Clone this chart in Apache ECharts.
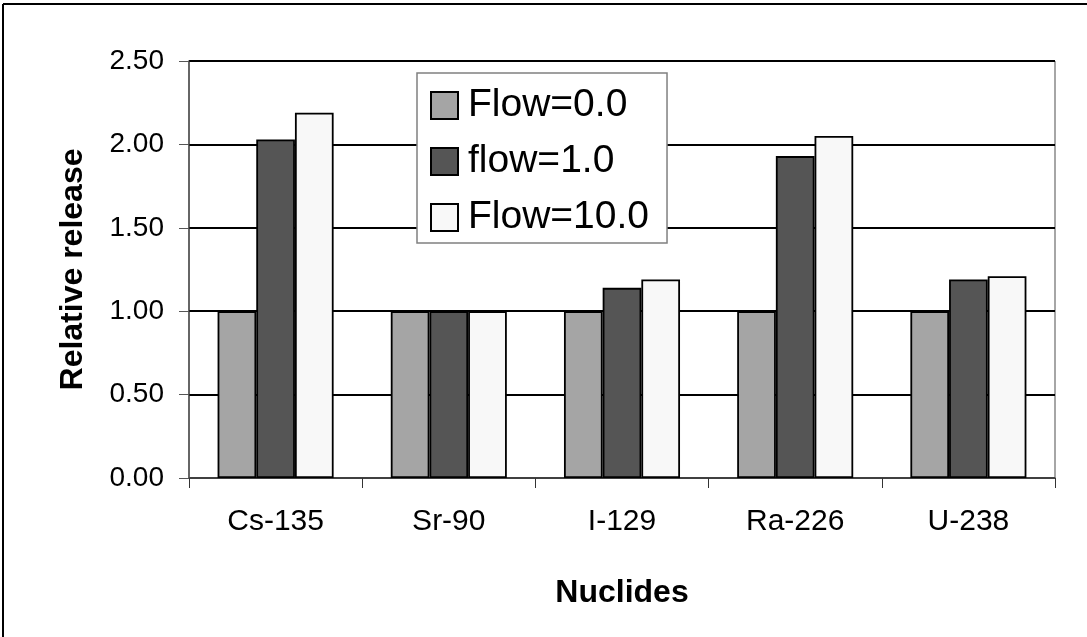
<!DOCTYPE html>
<html>
<head>
<meta charset="utf-8">
<style>
  html, body { margin: 0; padding: 0; background: #fff; }
  #chart { width: 1087px; height: 637px; }
</style>
<script src="https://cdn.jsdelivr.net/npm/echarts@6/dist/echarts.min.js"></script>
</head>
<body>
<div id="chart"></div>
<script>
const nuclides = ['Cs-135', 'Sr-90', 'I-129', 'Ra-226', 'U-238']
const flow0 = [1.00, 1.00, 1.00, 1.00, 1.00]
const flow1 = [2.03, 1.00, 1.14, 1.93, 1.19]
const flow10 = [2.19, 1.00, 1.19, 2.05, 1.21]
const seriesNames = ['Flow=0.0', 'flow=1.0', 'Flow=10.0']
const seriesColors = ['#a5a5a5', '#555555', '#f8f8f8']

const font = '"Liberation Sans", Arial, sans-serif'
const chart = echarts.init(document.getElementById('chart'))

const barSeries = [flow0, flow1, flow10].map((data, i) => ({
    name: seriesNames[i],
    type: 'bar',
    data: data,
    barGap: '0%',
    barCategoryGap: '33%',
    itemStyle: { color: seriesColors[i], borderColor: '#000', borderWidth: 1.8 }
}))

chart.setOption({
    animation: false,
    backgroundColor: '#fff',
    textStyle: { fontFamily: font },
    grid: { left: 189, right: 32, top: 61, bottom: 159 },
    legend: {
        orient: 'vertical',
        left: 417,
        top: 73,
        itemWidth: 27,
        itemHeight: 27,
        itemGap: 17,
        icon: 'rect',
        padding: [13, 18, 6, 13],
        backgroundColor: '#fff',
        borderColor: '#808080',
        borderWidth: 1.5,
        textStyle: { fontSize: 39, color: '#000', fontFamily: font, padding: [0, 0, 0, 5] },
        data: seriesNames
    },
    xAxis: {
        type: 'category',
        data: nuclides,
        name: 'Nuclides',
        nameLocation: 'middle',
        nameGap: 99,
        nameTextStyle: { fontSize: 32, fontWeight: 'bold', color: '#000', fontFamily: font },
        axisLine: { lineStyle: { color: '#555', width: 1.5 } },
        axisTick: { show: true, alignWithLabel: false, length: 10, inside: false, lineStyle: { color: '#333' } },
        axisLabel: { fontSize: 30, color: '#000', margin: 29, fontFamily: font },
        splitLine: { show: false }
    },
    yAxis: {
        type: 'value',
        min: 0,
        max: 2.5,
        interval: 0.5,
        name: 'Relative release',
        nameLocation: 'middle',
        nameGap: 100,
        nameTextStyle: { fontSize: 32, fontWeight: 'bold', color: '#000', fontFamily: font },
        axisLine: { show: true, lineStyle: { color: '#333', width: 1.5 } },
        axisTick: { show: true, length: 10, lineStyle: { color: '#555' } },
        axisLabel: { fontSize: 28, color: '#000', margin: 25, fontFamily: font, formatter: v => v.toFixed(2) },
        splitLine: { show: true, lineStyle: { color: '#000', width: 2 } }
    },
    graphic: [
        { type: 'line', shape: { x1: 3, y1: 4, x2: 1087, y2: 4 }, style: { stroke: '#000', lineWidth: 2 } },
        { type: 'line', shape: { x1: 3, y1: 4, x2: 3, y2: 637 }, style: { stroke: '#000', lineWidth: 2 } },
        { type: 'line', shape: { x1: 189, y1: 61, x2: 1055, y2: 61 }, style: { stroke: '#888', lineWidth: 2 } },
        { type: 'line', shape: { x1: 1055, y1: 61, x2: 1055, y2: 478 }, style: { stroke: '#888', lineWidth: 1.5 } }
    ],
    series: barSeries
})
</script>
</body>
</html>
